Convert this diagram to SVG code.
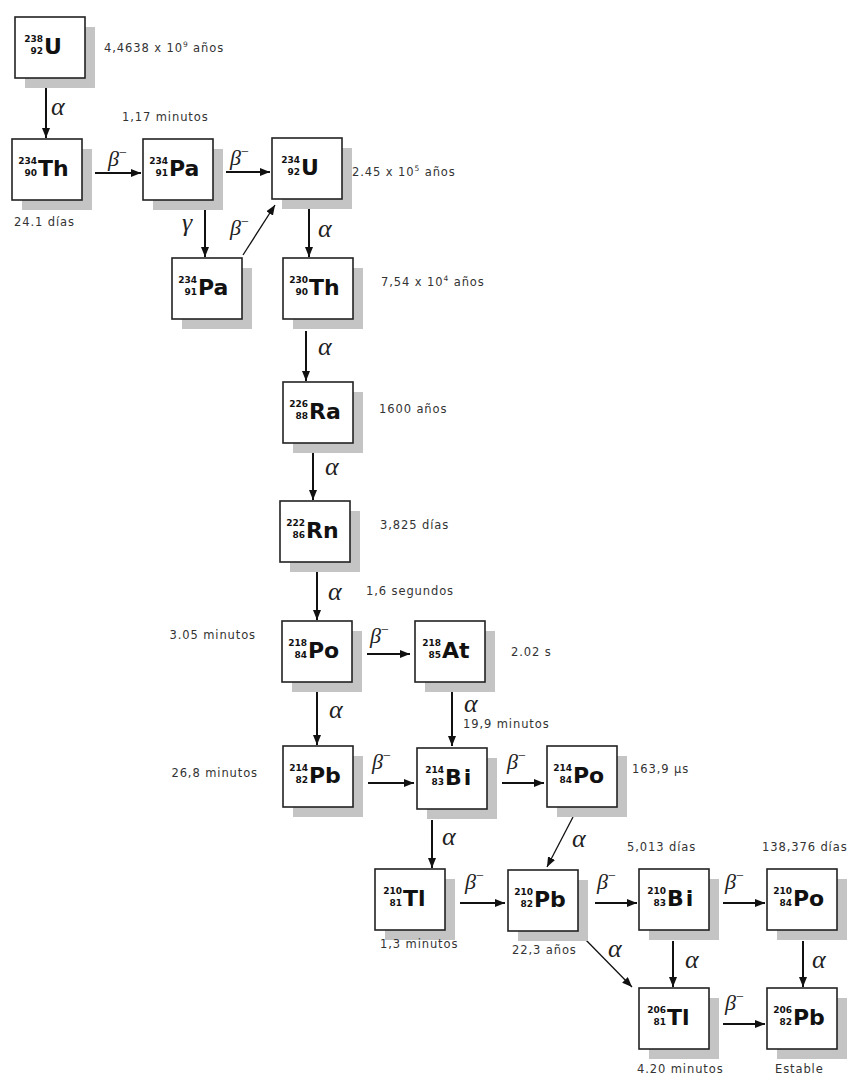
<svg xmlns="http://www.w3.org/2000/svg" width="850" height="1075" viewBox="0 0 850 1075">
  <style>
    .shadow { fill: #c4c4c4; }
    .box { fill: #ffffff; stroke: #222; stroke-width: 1.6; }
    .num { font-family: "DejaVu Sans", Verdana, sans-serif; font-weight: bold; font-size: 9px; fill: #111; text-anchor: end; }
    .sym { font-family: "DejaVu Sans", Verdana, sans-serif; font-weight: bold; font-size: 22px; fill: #111; }
    .hl { font-family: "DejaVu Sans", Verdana, sans-serif; font-size: 11.5px; letter-spacing: 0.9px; fill: #333; }
    .end { text-anchor: end; }
    .sup { font-size: 7.5px; }
    .gk { font-family: "Liberation Serif", "Times New Roman", serif; font-style: italic; fill: #222; }
    .a { font-size: 26px; }
    .b { font-size: 22px; }
    .m { font-size: 14px; font-style: normal; }
    .arr { stroke: #111; stroke-width: 2; fill: none; marker-end: url(#head); }
    .thin { stroke-width: 1.3; }
  </style>
  <defs>
    <marker id="head" markerUnits="userSpaceOnUse" markerWidth="11" markerHeight="8" refX="10" refY="4" orient="auto">
      <path d="M0,0 L10,4 L0,8 z" fill="#111"/>
    </marker>
  </defs>
  <rect width="850" height="1075" fill="#ffffff"/>

  <!-- decay arrows -->
  <g id="connectors">
    <line class="arr" x1="46" y1="88" x2="46" y2="138"/>
    <line class="arr" x1="95" y1="173" x2="141" y2="173"/>
    <line class="arr" x1="226" y1="172" x2="270" y2="172"/>
    <line class="arr" x1="205" y1="210" x2="205" y2="257"/>
    <line class="arr thin" x1="243" y1="255" x2="275" y2="205"/>
    <line class="arr" x1="309" y1="209" x2="309" y2="257"/>
    <line class="arr" x1="306" y1="331" x2="306" y2="381"/>
    <line class="arr" x1="313" y1="451" x2="313" y2="500"/>
    <line class="arr" x1="317" y1="570" x2="317" y2="620"/>
    <line class="arr" x1="367" y1="654" x2="410" y2="654"/>
    <line class="arr" x1="317" y1="692" x2="317" y2="745"/>
    <line class="arr" x1="452" y1="692" x2="452" y2="746"/>
    <line class="arr" x1="368" y1="783" x2="414" y2="783"/>
    <line class="arr" x1="502" y1="783" x2="544" y2="783"/>
    <line class="arr" x1="432" y1="820" x2="432" y2="868"/>
    <line class="arr thin" x1="573" y1="817" x2="547" y2="867"/>
    <line class="arr" x1="460" y1="903" x2="505" y2="903"/>
    <line class="arr" x1="595" y1="903" x2="637" y2="903"/>
    <line class="arr" x1="723" y1="903" x2="765" y2="903"/>
    <line class="arr thin" x1="583" y1="937" x2="632" y2="987"/>
    <line class="arr" x1="673" y1="941" x2="673" y2="987"/>
    <line class="arr" x1="803" y1="941" x2="803" y2="987"/>
    <line class="arr" x1="723" y1="1024" x2="765" y2="1024"/>

    <!-- decay modes -->
    <text class="gk a" x="51" y="115">α</text>
    <text class="gk b" x="108" y="166">β<tspan class="m" dy="-9">−</tspan></text>
    <text class="gk b" x="230" y="165">β<tspan class="m" dy="-9">−</tspan></text>
    <text class="gk b" x="230" y="235">β<tspan class="m" dy="-9">−</tspan></text>
    <text class="gk a" x="182" y="231">γ</text>
    <text class="gk a" x="318" y="237">α</text>
    <text class="gk a" x="318" y="355">α</text>
    <text class="gk a" x="325" y="475">α</text>
    <text class="gk a" x="328" y="600">α</text>
    <text class="gk b" x="370" y="643">β<tspan class="m" dy="-9">−</tspan></text>
    <text class="gk a" x="329" y="718">α</text>
    <text class="gk a" x="464" y="712">α</text>
    <text class="gk b" x="372" y="769">β<tspan class="m" dy="-9">−</tspan></text>
    <text class="gk b" x="507" y="769">β<tspan class="m" dy="-9">−</tspan></text>
    <text class="gk a" x="442" y="845">α</text>
    <text class="gk a" x="572" y="847">α</text>
    <text class="gk b" x="465" y="889">β<tspan class="m" dy="-9">−</tspan></text>
    <text class="gk b" x="597" y="889">β<tspan class="m" dy="-9">−</tspan></text>
    <text class="gk b" x="725" y="889">β<tspan class="m" dy="-9">−</tspan></text>
    <text class="gk a" x="608" y="957">α</text>
    <text class="gk a" x="685" y="968">α</text>
    <text class="gk a" x="812" y="968">α</text>
    <text class="gk b" x="725" y="1010">β<tspan class="m" dy="-9">−</tspan></text>
  </g>

  <!-- nuclides: shadow, box, mass / atomic number, symbol -->
  <g id="U238" transform="translate(15,17)">
    <rect class="shadow" x="10" y="10" width="70" height="61"/>
    <rect class="box" width="70" height="61"/>
    <text class="num" x="28" y="25">238</text><text class="num" x="28" y="37">92</text>
    <text class="sym" x="29" y="37">U</text>
  </g>
  <g id="Th234" transform="translate(12,139)">
    <rect class="shadow" x="10" y="10" width="70" height="61"/>
    <rect class="box" width="70" height="61"/>
    <text class="num" x="25" y="25">234</text><text class="num" x="25" y="37">90</text>
    <text class="sym" x="26" y="37">Th</text>
  </g>
  <g id="Pa234" transform="translate(143,139)">
    <rect class="shadow" x="10" y="10" width="70" height="61"/>
    <rect class="box" width="70" height="61"/>
    <text class="num" x="25" y="25">234</text><text class="num" x="25" y="37">91</text>
    <text class="sym" x="26" y="37">Pa</text>
  </g>
  <g id="U234" transform="translate(272,138)">
    <rect class="shadow" x="10" y="10" width="70" height="61"/>
    <rect class="box" width="70" height="61"/>
    <text class="num" x="28" y="25">234</text><text class="num" x="28" y="37">92</text>
    <text class="sym" x="29" y="37">U</text>
  </g>
  <g id="Pa234m" transform="translate(172,258)">
    <rect class="shadow" x="10" y="10" width="70" height="61"/>
    <rect class="box" width="70" height="61"/>
    <text class="num" x="25" y="25">234</text><text class="num" x="25" y="37">91</text>
    <text class="sym" x="26" y="37">Pa</text>
  </g>
  <g id="Th230" transform="translate(283,258)">
    <rect class="shadow" x="10" y="10" width="70" height="61"/>
    <rect class="box" width="70" height="61"/>
    <text class="num" x="25" y="25">230</text><text class="num" x="25" y="37">90</text>
    <text class="sym" x="26" y="37">Th</text>
  </g>
  <g id="Ra226" transform="translate(283,382)">
    <rect class="shadow" x="10" y="10" width="70" height="61"/>
    <rect class="box" width="70" height="61"/>
    <text class="num" x="25" y="25">226</text><text class="num" x="25" y="37">88</text>
    <text class="sym" x="26" y="37">Ra</text>
  </g>
  <g id="Rn222" transform="translate(280,501)">
    <rect class="shadow" x="10" y="10" width="70" height="61"/>
    <rect class="box" width="70" height="61"/>
    <text class="num" x="25" y="25">222</text><text class="num" x="25" y="37">86</text>
    <text class="sym" x="26" y="37">Rn</text>
  </g>
  <g id="Po218" transform="translate(282,621)">
    <rect class="shadow" x="10" y="10" width="70" height="61"/>
    <rect class="box" width="70" height="61"/>
    <text class="num" x="25" y="25">218</text><text class="num" x="25" y="37">84</text>
    <text class="sym" x="26" y="37">Po</text>
  </g>
  <g id="At218" transform="translate(415,621)">
    <rect class="shadow" x="10" y="10" width="70" height="61"/>
    <rect class="box" width="70" height="61"/>
    <text class="num" x="26" y="25">218</text><text class="num" x="26" y="37">85</text>
    <text class="sym" x="27" y="37">At</text>
  </g>
  <g id="Pb214" transform="translate(283,746)">
    <rect class="shadow" x="10" y="10" width="70" height="61"/>
    <rect class="box" width="70" height="61"/>
    <text class="num" x="25" y="25">214</text><text class="num" x="25" y="37">82</text>
    <text class="sym" x="26" y="37">Pb</text>
  </g>
  <g id="Bi214" transform="translate(417,748)">
    <rect class="shadow" x="10" y="10" width="70" height="61"/>
    <rect class="box" width="70" height="61"/>
    <text class="num" x="27" y="25">214</text><text class="num" x="27" y="37">83</text>
    <text class="sym" x="28" y="37" letter-spacing="2">Bi</text>
  </g>
  <g id="Po214" transform="translate(547,746)">
    <rect class="shadow" x="10" y="10" width="70" height="61"/>
    <rect class="box" width="70" height="61"/>
    <text class="num" x="25" y="25">214</text><text class="num" x="25" y="37">84</text>
    <text class="sym" x="26" y="37">Po</text>
  </g>
  <g id="Tl210" transform="translate(375,869)">
    <rect class="shadow" x="10" y="10" width="70" height="61"/>
    <rect class="box" width="70" height="61"/>
    <text class="num" x="27" y="25">210</text><text class="num" x="27" y="37">81</text>
    <text class="sym" x="28" y="37">Tl</text>
  </g>
  <g id="Pb210" transform="translate(508,870)">
    <rect class="shadow" x="10" y="10" width="70" height="61"/>
    <rect class="box" width="70" height="61"/>
    <text class="num" x="25" y="25">210</text><text class="num" x="25" y="37">82</text>
    <text class="sym" x="26" y="37">Pb</text>
  </g>
  <g id="Bi210" transform="translate(639,869)">
    <rect class="shadow" x="10" y="10" width="70" height="61"/>
    <rect class="box" width="70" height="61"/>
    <text class="num" x="27" y="25">210</text><text class="num" x="27" y="37">83</text>
    <text class="sym" x="28" y="37" letter-spacing="2">Bi</text>
  </g>
  <g id="Po210" transform="translate(767,869)">
    <rect class="shadow" x="10" y="10" width="70" height="61"/>
    <rect class="box" width="70" height="61"/>
    <text class="num" x="25" y="25">210</text><text class="num" x="25" y="37">84</text>
    <text class="sym" x="26" y="37">Po</text>
  </g>
  <g id="Tl206" transform="translate(639,988)">
    <rect class="shadow" x="10" y="10" width="70" height="61"/>
    <rect class="box" width="70" height="61"/>
    <text class="num" x="27" y="25">206</text><text class="num" x="27" y="37">81</text>
    <text class="sym" x="28" y="37">Tl</text>
  </g>
  <g id="Pb206" transform="translate(767,988)">
    <rect class="shadow" x="10" y="10" width="70" height="61"/>
    <rect class="box" width="70" height="61"/>
    <text class="num" x="25" y="25">206</text><text class="num" x="25" y="37">82</text>
    <text class="sym" x="26" y="37">Pb</text>
  </g>

  <!-- half-lives -->
  <g id="half-lives">
    <text class="hl" x="104" y="52">4,4638 x 10<tspan class="sup" dy="-5">9</tspan><tspan dy="5"> años</tspan></text>
    <text class="hl" x="122" y="121">1,17 minutos</text>
    <text class="hl" x="14" y="226">24.1 días</text>
    <text class="hl" x="352" y="176">2.45 x 10<tspan class="sup" dy="-5">5</tspan><tspan dy="5"> años</tspan></text>
    <text class="hl" x="381" y="286">7,54 x 10<tspan class="sup" dy="-5">4</tspan><tspan dy="5"> años</tspan></text>
    <text class="hl" x="379" y="413">1600 años</text>
    <text class="hl" x="380" y="529">3,825 días</text>
    <text class="hl" x="366" y="595">1,6 segundos</text>
    <text class="hl end" x="256" y="639">3.05 minutos</text>
    <text class="hl" x="511" y="656">2.02 s</text>
    <text class="hl" x="463" y="728">19,9 minutos</text>
    <text class="hl end" x="258" y="777">26,8 minutos</text>
    <text class="hl" x="632" y="773">163,9 µs</text>
    <text class="hl" x="627" y="851">5,013 días</text>
    <text class="hl" x="762" y="851">138,376 días</text>
    <text class="hl" x="380" y="948">1,3 minutos</text>
    <text class="hl" x="512" y="954">22,3 años</text>
    <text class="hl" x="637" y="1073">4.20 minutos</text>
    <text class="hl" x="775" y="1073">Estable</text>
  </g>
</svg>
